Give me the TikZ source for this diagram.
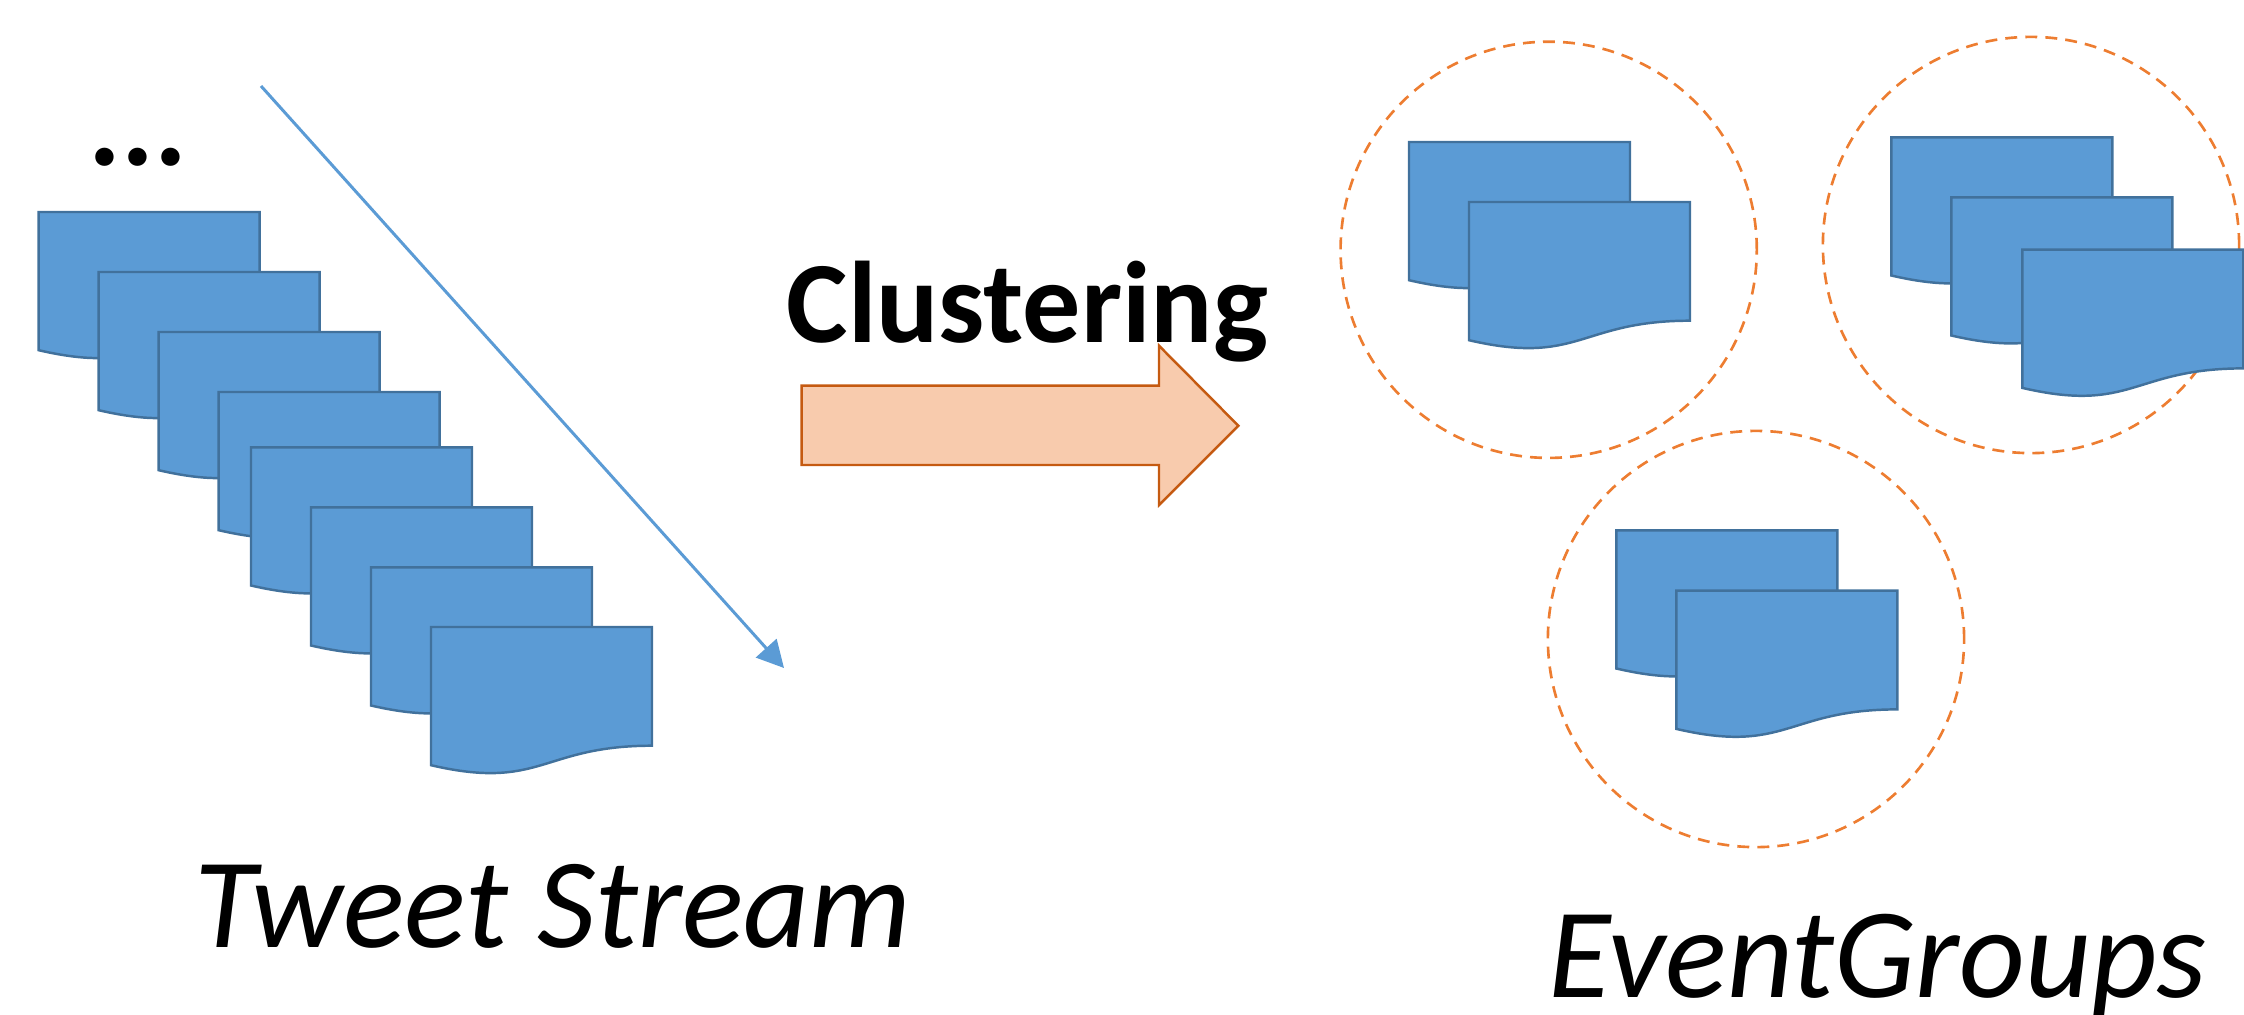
\documentclass[tikz,border=0pt]{standalone}
\usepackage{fontspec}
\setmainfont{Carlito}
\usetikzlibrary{arrows.meta}

\definecolor{docfill}{HTML}{5B9BD5}
\definecolor{docline}{HTML}{41719C}
\definecolor{peachfill}{HTML}{F8CBAD}
\definecolor{peachline}{HTML}{C55A11}
\definecolor{groupline}{HTML}{ED7D31}

\tikzset{
    tweetdoc/.pic={
        \filldraw[fill=docfill, draw=docline, line width=0.7pt]
            (0,0) -- (221,0) -- (221,118.7)
            .. controls (110.5,118.7) and (110.5,163.9) .. (0,138.2) -- cycle;
    },
    group/.style={
        circle,
        draw=groupline,
        line width=0.75pt,
        dash pattern=on 3.4pt off 2.3pt,
        minimum size=4.16cm,
        inner sep=0pt},
    label text/.style={
        anchor=base west,
        inner sep=0pt},
}

\begin{document}
\begin{tikzpicture}[x=0.01cm, y=-0.01cm]
    \useasboundingbox (0,0) rectangle (2244,1015);

    % tweet stream
    \node[
        label text,
        font=\bfseries\fontsize{35}{40}\selectfont]
        (dots) at (88,165) {...};
    \foreach \x/\y in {38.7/212, 98.7/272, 158.7/332, 218.7/392,
                       251/447.3, 311/507.3, 371/567.3, 431/627}
        \pic at (\x,\y) {tweetdoc};
    \coordinate (flow start) at (261,86);
    \coordinate (flow end) at (784,668);
    \draw[
        -{Triangle[length=7.6pt, width=7.8pt]},
        draw=docfill,
        fill=docfill,
        line width=0.85pt]
        (flow start) -- (flow end);
    \node[
        label text,
        font=\itshape\fontsize{36.5}{42}\selectfont]
        (stream) at (194,947) {Tweet Stream};

    % clustering arrow
    \node[
        label text,
        font=\bfseries\fontsize{33}{40}\selectfont]
        (clustering) at (786,342) {Clustering};
    \filldraw[fill=peachfill, draw=peachline, line width=0.7pt]
        (801.7,385.7) -- (1159,385.7) -- (1159,345.7) -- (1238.3,425.7)
        -- (1159,505) -- (1159,465) -- (801.7,465) -- cycle;

    % event groups
    \node[group] (group one) at (1548.7,249.8) {};
    \node[group] (group two) at (2031,245) {};
    \node[group] (group three) at (1756,639) {};
    \foreach \x/\y in {1409/142, 1469/202,
                       1891.3/137.3, 1951.3/197.3, 2022.3/249.7,
                       1616.3/530.3, 1676.3/590.7}
        \pic at (\x,\y) {tweetdoc};
    \node[
        label text,
        font=\itshape\fontsize{36.5}{42}\selectfont]
        (groups) at (1548,997) {EventGroups};
\end{tikzpicture}
\end{document}
